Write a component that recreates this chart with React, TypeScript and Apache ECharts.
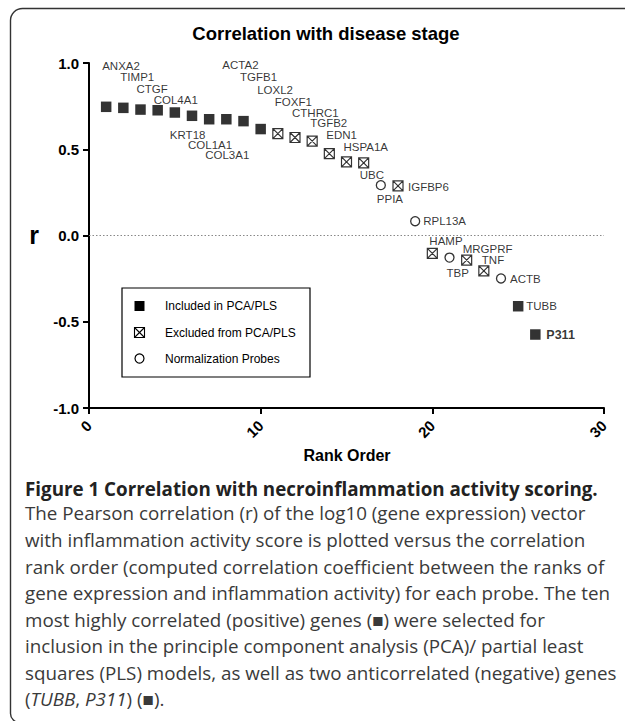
import React, { useEffect, useRef } from 'react';
import * as echarts from 'echarts';

const genes = [
  'ANXA2', 'TIMP1', 'CTGF', 'COL4A1', 'KRT18', 'COL1A1', 'COL3A1', 'ACTA2', 'TGFB1', 'LOXL2',
  'FOXF1', 'CTHRC1', 'TGFB2', 'EDN1', 'HSPA1A', 'UBC', 'PPIA', 'IGFBP6', 'RPL13A', 'HAMP',
  'TBP', 'MRGPRF', 'TNF', 'ACTB', 'TUBB', 'P311',
];
const rankOrder = [1, 2, 3, 4, 5, 6, 7, 8, 9, 10, 11, 12, 13, 14, 15, 16, 17, 18, 19, 20, 21, 22, 23, 24, 25, 26];
const rValues = [
  0.746, 0.74, 0.73, 0.726, 0.713, 0.694, 0.674, 0.674, 0.663, 0.617,
  0.591, 0.568, 0.547, 0.475, 0.427, 0.421, 0.292, 0.288, 0.083, -0.104,
  -0.128, -0.143, -0.205, -0.249, -0.41, -0.574,
];
// 0 = included, 1 = excluded, 2 = normalization probe
const groups = [0, 0, 0, 0, 0, 0, 0, 0, 0, 0, 1, 1, 1, 1, 1, 1, 2, 1, 2, 1, 2, 1, 1, 2, 0, 0];
const groupNames = ['Included in PCA/PLS', 'Excluded from PCA/PLS', 'Normalization Probes'];
const yTickValues = [-1, -0.5, 0, 0.5, 1];
const xTickValues = [0, 10, 20, 30];

const titleText = 'Correlation with disease stage';
const yName = 'r';
const xName = 'Rank Order';

const captionTitle = 'Figure 1 Correlation with necroinflammation activity scoring.';
const captionLines = [
  'The Pearson correlation (r) of the log10 (gene expression) vector',
  'with inflammation activity score is plotted versus the correlation',
  'rank order (computed correlation coefficient between the ranks of',
  'gene expression and inflammation activity) for each probe. The ten',
  'most highly correlated (positive) genes (■) were selected for',
  'inclusion in the principle component analysis (PCA)/ partial least',
  'squares (PLS) models, as well as two anticorrelated (negative) genes',
  '({i|TUBB}, {i|P311}) (■).',
];

// label placement (pixel offsets from each marker centre)
const labelOffsets: [number, number][] = [
  [-4, -41], [-3, -31], [-4, -21], [-4, -10], [-5, 22], [-4, 29], [-4, 36], [-4, -54], [-3.5, -44], [-3.5, -39],
  [-3, -32], [-3, -25], [-2, -18], [-3, -18.5], [-3, -14.5], [-4, 12], [-4, 14], [10, 1], [8, 0], [-3, -12],
  [-3, 15], [-4, -11], [-2, -11], [9, 0.5], [8, 0], [11, 0.5],
];

const ARIAL = '"Liberation Sans", Arial, Helvetica, sans-serif';
const CAPTION_FONT = '"Open Sans", "Noto Sans", sans-serif';
const BOXED = 'path://M0,0L10,0L10,10L0,10Z M0,0L10,10 M10,0L0,10';

export default function App() {
  const ref = useRef<HTMLDivElement>(null);

  useEffect(() => {
    if (!ref.current) return;
    const chart = echarts.init(ref.current, undefined, { renderer: 'svg' });

    const symbolFor = [
      { symbol: 'rect', size: 10.5, itemStyle: { color: '#000', borderWidth: 0 } },
      { symbol: BOXED, size: 10, itemStyle: { color: '#fff', borderColor: '#000', borderWidth: 1.2 } },
      { symbol: 'circle', size: 9, itemStyle: { color: '#fff', borderColor: '#000', borderWidth: 1.3 } },
    ];

    const series: any[] = groupNames.map((name, gi) => ({
      type: 'scatter',
      name,
      symbol: symbolFor[gi].symbol,
      symbolSize: symbolFor[gi].size,
      symbolKeepAspect: true,
      itemStyle: symbolFor[gi].itemStyle,
      silent: true,
      emphasis: { disabled: true },
      label: {
        show: true,
        formatter: (p: any) => p.name,
        position: 'inside',
        align: 'left',
        verticalAlign: 'middle',
        fontSize: 11.5,
        fontFamily: ARIAL,
        color: '#000',
      },
      data: genes
        .map((g, i) => ({ g, i }))
        .filter(({ i }) => groups[i] === gi)
        .map(({ g, i }) => ({
          name: g,
          value: [rankOrder[i], rValues[i]],
          label: {
            offset: labelOffsets[i],
            ...(g === 'P311' ? { fontWeight: 'bold', fontSize: 12.5, color: '#000' } : {}),
          },
        })),
    }));

    series[0].markLine = {
      silent: true,
      symbol: ['none', 'none'],
      label: { show: false },
      lineStyle: { type: [1.5, 2], color: '#888', width: 1 },
      data: [{ yAxis: 0 }],
    };

    const legX = 122;
    const legY = 288;
    const rowY = [306, 332.5, 358.5];
    const iconX = 139.5;

    const captionEls: any[] = [
      {
        type: 'text',
        x: 25,
        y: 488.7,
        style: {
          text: captionTitle,
          font: `bold 18.8px ${CAPTION_FONT}`,
          fill: '#222',
          align: 'left',
          verticalAlign: 'middle',
        },
      },
      ...captionLines.map((t, k) => ({
        type: 'text',
        x: 25,
        y: 513.4 + k * 26.55,
        style: {
          text: t,
          font: `18.8px ${CAPTION_FONT}`,
          fill: '#3a3a3a',
          align: 'left',
          verticalAlign: 'middle',
          rich: {
            i: { fontStyle: 'italic', fontSize: 18.8, fontFamily: CAPTION_FONT, fill: '#3a3a3a' },
          },
        },
      })),
    ];

    const option: any = {
      animation: false,
      backgroundColor: '#fff',
      grid: { left: 89, right: 21, top: 63, bottom: 313, containLabel: false },
      xAxis: {
        type: 'value',
        min: xTickValues[0],
        max: xTickValues[xTickValues.length - 1],
        interval: 10,
        splitLine: { show: false },
        axisLine: { show: true, onZero: false, lineStyle: { color: '#000', width: 2 } },
        axisTick: { show: true, length: 6, lineStyle: { color: '#000', width: 2 } },
        axisLabel: {
          rotate: 45,
          margin: 15,
          fontSize: 15,
          fontWeight: 'bold',
          fontFamily: ARIAL,
          color: '#000',
        },
      },
      yAxis: {
        type: 'value',
        min: yTickValues[0],
        max: yTickValues[yTickValues.length - 1],
        interval: 0.5,
        splitLine: { show: false },
        axisLine: { show: true, onZero: false, lineStyle: { color: '#000', width: 2 } },
        axisTick: { show: true, length: 6, lineStyle: { color: '#000', width: 2 } },
        axisLabel: {
          margin: 10,
          fontSize: 15,
          fontWeight: 'bold',
          fontFamily: ARIAL,
          color: '#000',
          formatter: (v: number) => v.toFixed(1),
        },
      },
      series,
      graphic: [
        {
          type: 'rect',
          z: 0,
          silent: true,
          shape: { x: 10.5, y: 8.5, width: 700, height: 714, r: [12, 0, 0, 9] },
          style: { fill: 'none', stroke: '#333', lineWidth: 1.4 },
        },
        {
          type: 'text',
          x: 326,
          y: 33,
          style: {
            text: titleText,
            font: `bold 18.5px ${ARIAL}`,
            fill: '#000',
            align: 'center',
            verticalAlign: 'middle',
          },
        },
        {
          type: 'text',
          x: 34,
          y: 234.5,
          style: {
            text: yName,
            font: `bold 25px ${ARIAL}`,
            fill: '#000',
            align: 'center',
            verticalAlign: 'middle',
          },
        },
        {
          type: 'text',
          x: 347,
          y: 455,
          style: {
            text: xName,
            font: `bold 16px ${ARIAL}`,
            fill: '#000',
            align: 'center',
            verticalAlign: 'middle',
          },
        },
        {
          type: 'rect',
          silent: true,
          shape: { x: legX, y: legY, width: 188, height: 89 },
          style: { fill: '#fff', stroke: '#000', lineWidth: 1.2 },
        },
        {
          type: 'rect',
          shape: { x: iconX - 5, y: rowY[0] - 5, width: 10, height: 10 },
          style: { fill: '#000' },
        },
        {
          type: 'rect',
          shape: { x: iconX - 5, y: rowY[1] - 5, width: 10, height: 10 },
          style: { fill: '#fff', stroke: '#000', lineWidth: 1.1 },
        },
        {
          type: 'line',
          shape: { x1: iconX - 5, y1: rowY[1] - 5, x2: iconX + 5, y2: rowY[1] + 5 },
          style: { stroke: '#000', lineWidth: 1.1 },
        },
        {
          type: 'line',
          shape: { x1: iconX + 5, y1: rowY[1] - 5, x2: iconX - 5, y2: rowY[1] + 5 },
          style: { stroke: '#000', lineWidth: 1.1 },
        },
        {
          type: 'circle',
          shape: { cx: iconX, cy: rowY[2], r: 4.5 },
          style: { fill: '#fff', stroke: '#000', lineWidth: 1.2 },
        },
        ...groupNames.map((n, k) => ({
          type: 'text',
          x: 165,
          y: rowY[k],
          style: {
            text: n,
            font: `12px ${ARIAL}`,
            fill: '#000',
            align: 'left',
            verticalAlign: 'middle',
          },
        })),
        ...captionEls,
      ],
    };

    chart.setOption(option);
    return () => chart.dispose();
  }, []);

  return (
    <div
      ref={ref}
      style={{ position: 'absolute', left: 0, top: 0, width: 625, height: 721, background: '#fff' }}
    />
  );
}
